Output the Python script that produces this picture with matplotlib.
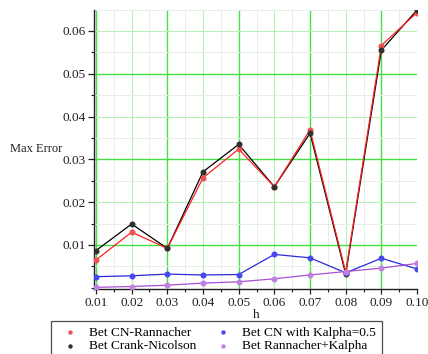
import numpy as np
import matplotlib
matplotlib.use('Agg')
import matplotlib.pyplot as plt
from matplotlib.ticker import MultipleLocator, FormatStrFormatter

plt.rcParams['font.family'] = ['Liberation Serif', 'DejaVu Serif']

# 步长 h 与各方法的最大误差
h = [0.01, 0.02, 0.03, 0.04, 0.05, 0.06, 0.07, 0.08, 0.09, 0.10]
err_cn_rannacher = [0.0065, 0.0130, 0.0092, 0.0257, 0.0324, 0.0236, 0.0369, 0.0037, 0.0566, 0.0643]
err_crank_nicolson = [0.0087, 0.0149, 0.0092, 0.0271, 0.0335, 0.0236, 0.0361, 0.0032, 0.0555, 0.0649]
err_cn_kalpha = [0.0026, 0.0028, 0.0032, 0.0030, 0.0031, 0.0078, 0.0070, 0.0035, 0.0069, 0.0044]
err_rannacher_kalpha = [0.0001, 0.0003, 0.0006, 0.0011, 0.0014, 0.0021, 0.0030, 0.0038, 0.0046, 0.0057]

labels = ['Bet CN-Rannacher', 'Bet Crank-Nicolson',
          'Bet CN with Kalpha=0.5', 'Bet Rannacher+Kalpha']

fig = plt.figure(figsize=(4.28, 3.54), dpi=100)
ax = fig.add_axes([0.2201, 0.1828, 0.7543, 0.789])

# 网格：细灰线 0.005，浅绿 0.01，亮绿 0.02
for x in np.arange(0.01, 0.1001, 0.005):
    k = int(round(x / 0.005))
    if k % 4 == 2:
        c, lw = '#44e044', 1.0
    elif k % 2 == 0:
        c, lw = '#b8f0b8', 0.8
    else:
        c, lw = '#e6eee6', 0.7
    ax.axvline(x, color=c, lw=lw, zorder=0)
for y in np.arange(0.005, 0.0651, 0.005):
    k = int(round(y / 0.005))
    if k % 4 == 2:
        c, lw = '#44e044', 1.0
    elif k % 2 == 0:
        c, lw = '#b8f0b8', 0.8
    else:
        c, lw = '#e6eee6', 0.7
    ax.axhline(y, color=c, lw=lw, zorder=0)

ax.plot(h, err_crank_nicolson, color='black', lw=0.9, zorder=3)
ax.plot(h, err_cn_rannacher, color='#ff2020', lw=0.9, zorder=4)
ax.plot(h, err_cn_kalpha, color='#2a2ad8', lw=0.9, zorder=3)
ax.plot(h, err_rannacher_kalpha, color='#a850d8', lw=0.9, zorder=3)

s1 = ax.scatter(h, err_cn_rannacher, s=11, color='#f05050', zorder=5, label=labels[0])
s2 = ax.scatter(h, err_crank_nicolson, s=11, color='#303030', zorder=5, label=labels[1])
s3 = ax.scatter(h, err_cn_kalpha, s=11, color='#4848f0', zorder=5, label=labels[2])
s4 = ax.scatter(h, err_rannacher_kalpha, s=11, color='#c080e0', zorder=5, label=labels[3])

ax.set_xlim(0.0095, 0.1)
ax.set_ylim(-0.00035, 0.0649)

ax.xaxis.set_major_locator(MultipleLocator(0.01))
ax.xaxis.set_minor_locator(MultipleLocator(0.005))
ax.yaxis.set_minor_locator(MultipleLocator(0.005))
ax.xaxis.set_major_formatter(FormatStrFormatter('%.2f'))
ax.yaxis.set_major_formatter(FormatStrFormatter('%.2f'))
ax.set_yticks([0.01, 0.02, 0.03, 0.04, 0.05, 0.06])

for side in ['top', 'right']:
    ax.spines[side].set_visible(False)
for side in ['left', 'bottom']:
    ax.spines[side].set_linewidth(1.0)
    ax.spines[side].set_color('#202020')

ax.tick_params(axis='both', which='major', width=0.9, labelsize=9.5,
               colors='#202020')
ax.tick_params(axis='y', which='major', length=4.5, pad=1.5)
ax.tick_params(axis='x', which='major', length=3.8, pad=1.5)
ax.tick_params(axis='both', which='minor', length=2.2, width=0.8, colors='#202020')

fig.text(0.023, 0.578, 'Max Error', fontsize=9, va='center', ha='left', color='#202020')
fig.text(0.598, 0.11, 'h', fontsize=9.5, va='center', ha='center', color='#202020')

leg = fig.legend(handles=[s1, s2, s3, s4], loc='upper left', ncol=2,
                 bbox_to_anchor=(0.119, 0.093), borderaxespad=0,
                 fontsize=9.6, frameon=True, fancybox=False,
                 edgecolor='#202020', handlelength=2.0, handletextpad=0.45,
                 columnspacing=1.0, labelspacing=0.1, borderpad=0.4,
                 scatterpoints=1, markerscale=0.65)
leg.get_frame().set_linewidth(0.9)

fig.savefig('out.png', dpi=100)
